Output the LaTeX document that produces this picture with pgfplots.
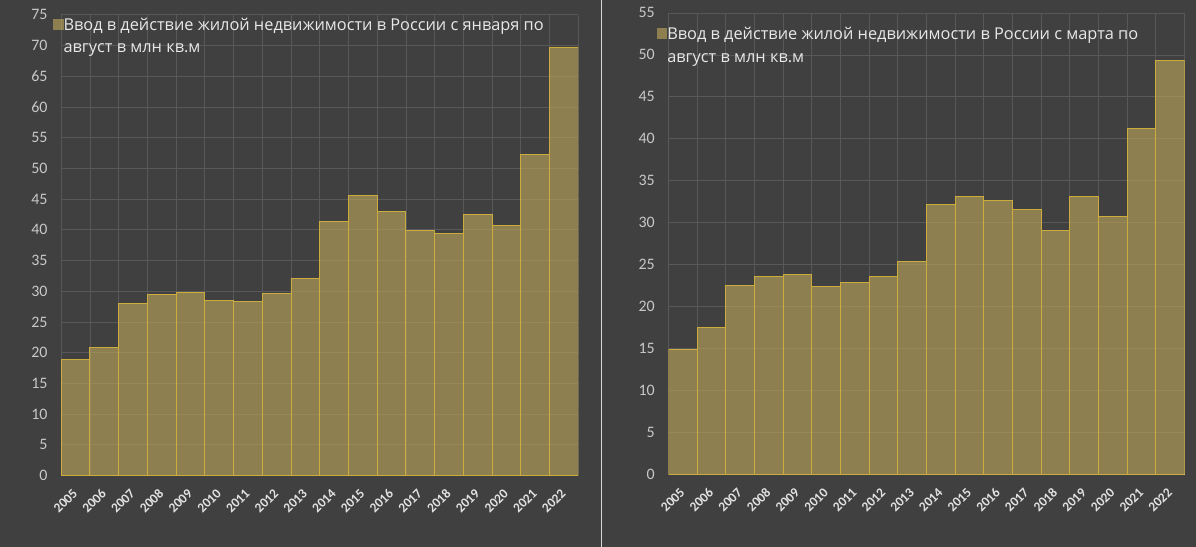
\documentclass[border=0pt]{standalone}
\usepackage{pgfplots}
\pgfplotsset{compat=1.18}
\usepackage{fontspec}
\setmainfont{Carlito}
\newfontfamily\legfont{Open Sans}
\definecolor{bgc}{RGB}{64,64,64}
\definecolor{gridc}{RGB}{88,88,88}
\definecolor{barfill}{RGB}{194,169,91}
\definecolor{baredge}{RGB}{205,172,62}
\definecolor{tickc}{RGB}{200,200,200}
\definecolor{yearc}{RGB}{225,225,225}
\definecolor{legc}{RGB}{232,232,232}
\definecolor{axc}{RGB}{215,215,215}
\pgfplotsset{
  panel/.style={
    scale only axis,
    anchor=south west,
    xmin=-0.5, xmax=17.5, ymin=0,
    xtick={0,...,17},
    xticklabels={2005,2006,2007,2008,2009,2010,2011,2012,2013,2014,2015,2016,2017,2018,2019,2020,2021,2022},
    minor xtick={-0.5,0.5,...,17.5},
    major tick length=0pt, minor tick length=0pt,
    xmajorgrids=false, xminorgrids=true, ymajorgrids=true,
    grid style={color=gridc, line width=0.7bp},
    minor grid style={color=gridc, line width=0.7bp},
    separate axis lines,
    axis x line*=bottom, axis y line*=left,
    x axis line style={color=axc, line width=1.3bp, -},
    y axis line style={draw=none},
    /pgf/number format/assume math mode=true,
    yticklabel style={font=\fontsize{16}{16}\selectfont, color=tickc, anchor=east, inner sep=0pt, xshift=-13.5bp},
    xticklabel style={xshift=3bp, yshift=-19bp, rotate=45, anchor=south east, inner sep=0pt, font=\bfseries\fontsize{13.5}{13.5}\selectfont, color=yearc},
    ybar, bar width=1,
    legend image code/.code={\fill[#1,draw=none] (0bp,0.7bp) rectangle (10.3bp,11.5bp);},
    legend style={draw=none, fill=none, inner sep=0pt, outer sep=0pt, anchor=north west,
      font=\legfont\fontsize{16.4}{22.5}\selectfont, text=legc,
      nodes={inner sep=0pt, outer sep=0pt}, cells={anchor=base west},
      /tikz/every even column/.style={column sep=6bp}},
  },
  barsty/.style={fill=barfill, fill opacity=0.6, draw=baredge, line width=0.9bp},
}
\begin{document}
\begin{tikzpicture}
\fill[bgc] (0bp,0bp) rectangle (1196bp,546bp);
\draw[color=axc, line width=1bp] (601.5bp,0bp) -- (601.5bp,546bp);
\begin{axis}[panel, at={(61.2bp,71bp)}, width=517bp, height=460.8bp, ymax=75, ytick={0,5,...,75},
  legend style={at={(-0.0153,0.9996)}}]
\addplot[barsty] coordinates {(0,18.9) (1,20.9) (2,28.0) (3,29.5) (4,29.8) (5,28.5) (6,28.4) (7,29.7) (8,32.1) (9,41.4) (10,45.6) (11,43.0) (12,39.9) (13,39.4) (14,42.5) (15,40.7) (16,52.2) (17,69.6)};
\addlegendentry{\begin{tabular}[t]{@{}l@{}}Ввод в действие жилой недвижимости в России с января по\\август в млн кв.м\end{tabular}}
\end{axis}
\begin{axis}[panel, at={(668.5bp,72bp)}, width=516bp, height=461.6bp, ymax=55, ytick={0,5,...,55},
  legend style={at={(-0.0223,0.9755)}}]
\addplot[barsty] coordinates {(0,14.9) (1,17.5) (2,22.5) (3,23.6) (4,23.8) (5,22.4) (6,22.9) (7,23.6) (8,25.4) (9,32.2) (10,33.1) (11,32.7) (12,31.6) (13,29.1) (14,33.1) (15,30.7) (16,41.2) (17,49.3)};
\addlegendentry{\begin{tabular}[t]{@{}l@{}}Ввод в действие жилой недвижимости в России с марта по\\август в млн кв.м\end{tabular}}
\end{axis}
\end{tikzpicture}
\end{document}
